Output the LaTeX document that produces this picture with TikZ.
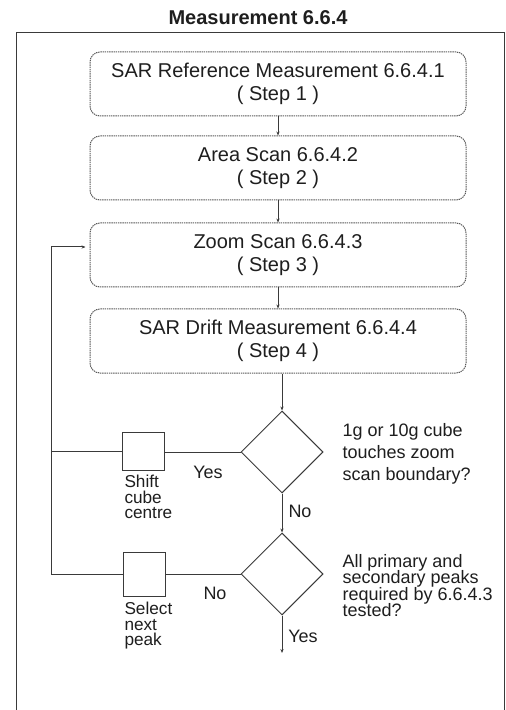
\documentclass[tikz,border=0pt]{standalone}
\usepackage{fontspec}
\setmainfont{Liberation Sans}
\usetikzlibrary{shapes.geometric,arrows.meta}
\definecolor{linegray}{HTML}{3A3A3A}
\definecolor{boxgray}{HTML}{5A5A5A}
\definecolor{textdark}{HTML}{1E1E1E}
\begin{document}
\begin{tikzpicture}[x=0.5pt,y=-0.5pt,line width=0.5pt,color=linegray,text=textdark,
    stepbox/.style={draw=boxgray,dash pattern=on 0.7pt off 0.4pt,rounded corners=5pt,
      minimum width=188pt,minimum height=32pt,inner sep=0pt,align=center,
      font=\fontsize{10}{11.5}\selectfont},
    decision/.style={diamond,draw,minimum width=41pt,minimum height=41pt,inner sep=0pt},
    actbox/.style={draw,minimum width=21pt,inner sep=0pt},
    small/.style={inner sep=0pt,anchor=north west,align=left,
      font={\fontsize{8.6}{7.6}\selectfont\lineskiplimit=-5pt}},
    lbl/.style={inner sep=0pt,font=\fontsize{9}{11}\selectfont},
    tip/.style={-{Stealth[length=2pt,width=1.6pt]}}]
    \useasboundingbox (0,0) rectangle (506,710);
    \node[font=\bfseries\fontsize{10}{12}\selectfont] (title) at (258,18) {Measurement 6.6.4};
    \draw (16,33) rectangle (504,716);

    \node[stepbox] (ref) at (278,84) {SAR Reference Measurement 6.6.4.1\\( Step 1 )};
    \node[stepbox] (area) at (278,168) {Area Scan 6.6.4.2\\( Step 2 )};
    \node[stepbox] (zoom) at (278,255) {Zoom Scan 6.6.4.3\\( Step 3 )};
    \node[stepbox] (drift) at (278,341) {SAR Drift Measurement 6.6.4.4\\( Step 4 )};

    \node[decision] (touch) at (282,452) {};
    \node[decision] (peaks) at (282,574) {};
    \node[actbox,minimum height=19pt] (shift) at (143,451) {};
    \node[actbox,minimum height=22pt] (select) at (144,574) {};

    \node[small] (shifttxt) at (124,475) {Shift\\cube\\centre};
    \node[small] (selecttxt) at (124,602) {Select\\next\\peak};
    \node[lbl,anchor=north west,align=left] (touchtxt) at (342,423) {1g or 10g cube\\touches zoom\\scan boundary?};
    \node[small,font={\fontsize{9}{8.2}\selectfont\lineskiplimit=-5pt}] (peakstxt) at (342,554)
      {All primary and\\secondary peaks\\required by 6.6.4.3\\tested?};

    \node[lbl] (yes1) at (208,472) {Yes};
    \node[lbl] (no1) at (300,511) {No};
    \node[lbl] (no2) at (215,593) {No};
    \node[lbl] (yes2) at (303,636) {Yes};

    % main flow
    \draw[tip] (ref) -- (area);
    \draw[tip] (area) -- (zoom);
    \draw[tip] (zoom) -- (drift);
    \draw[tip] (drift.south -| touch) -- (touch);
    \draw[tip] (touch) -- (peaks);
    \coordinate (out) at (282,653);
    \draw[tip] (peaks) -- (out);

    % loops back to the zoom scan
    \coordinate (bus) at (51,247);
    \draw (touch.west) -- (touch.west -| shift.east);
    \draw (shift.west) -- (shift.west -| bus);
    \draw (peaks.west) -- (peaks.west -| select.east);
    \draw[tip,shorten >=2pt] (select.west) -| (bus) -- ([yshift=4pt]zoom.west);
  \end{tikzpicture}
\end{document}
